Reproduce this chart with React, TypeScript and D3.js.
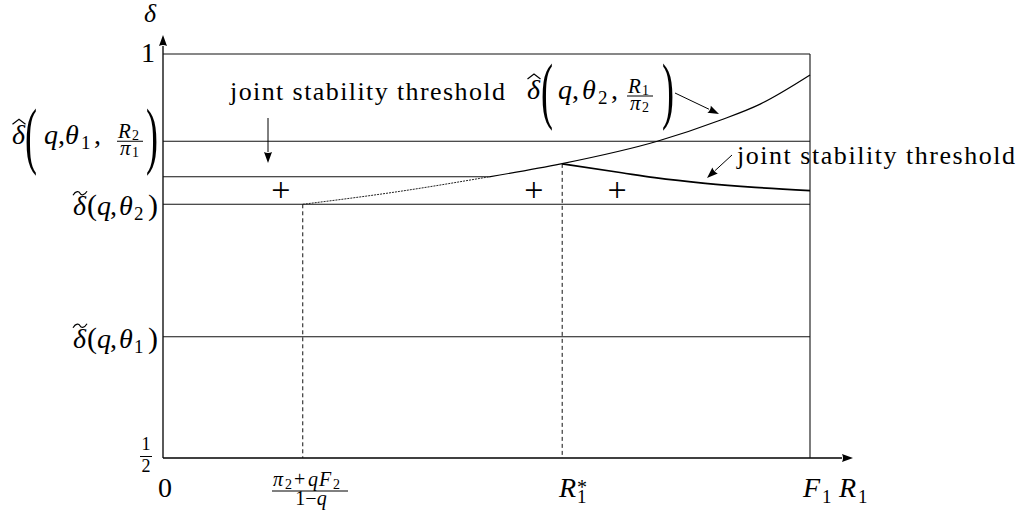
import React from "react";
import * as d3 from "d3";

// horizontal reference levels (delta values, 1/2 .. 1)
const fullLevels = [1, 0.892, 0.814, 0.65];
const jointFlat = 0.848;
// special R1 positions (F1 = 1)
const xThreshold = 0.216; // (pi2 + qF2)/(1-q)
const xStar = 0.617; // R1*
const xCross = 0.504; // where curve meets the flat threshold

// delta-hat(q, theta2, R1/pi2) curve
const upperX = [0.216, 0.366, 0.504, 0.615, 0.764, 0.861, 0.923, 1.0];
const upperY = [0.814, 0.83, 0.848, 0.864, 0.892, 0.918, 0.938, 0.974];
// joint stability threshold to the right of R1*
const lowerX = [0.617, 0.709, 0.76, 0.838, 0.915, 1.0];
const lowerY = [0.864, 0.853, 0.847, 0.84, 0.835, 0.831];
// "+" marks
const plusX = [0.182, 0.573, 0.702];
const plusY = 0.829;

const FONT = "'Liberation Serif', 'DejaVu Serif', serif";

const x = d3.scaleLinear().domain([0, 1]).range([163, 810]);
const y = d3.scaleLinear().domain([0.5, 1]).range([458, 54]);

const line = d3
  .line<[number, number]>()
  .x((d) => x(d[0]))
  .y((d) => y(d[1]))
  .curve(d3.curveMonotoneX);

const upperPts: [number, number][] = upperX.map((v, i) => [v, upperY[i]]);
const upperDotted = upperPts.filter((d) => d[0] <= xCross);
const upperSolid = upperPts.filter((d) => d[0] >= xCross);
const lowerPts: [number, number][] = lowerX.map((v, i) => [v, lowerY[i]]);

function T({ x, y, s = 28, it = false, anchor = "start", children, len }: any) {
  return (
    <text
      x={x}
      y={y}
      fontSize={s}
      fontStyle={it ? "italic" : "normal"}
      textAnchor={anchor}
      textLength={len}
      lengthAdjust={len ? "spacing" : undefined}
    >
      {children}
    </text>
  );
}

// italic symbol followed by an upright subscript, in one text element
function Sub({ x, y, s = 28, ss = 19, sx, dy = 5, sym, sub }: any) {
  return (
    <text x={x} y={y} fontSize={s}>
      <tspan fontStyle="italic">{sym}</tspan>
      <tspan x={sx} dy={dy} fontSize={ss}>{sub}</tspan>
    </text>
  );
}

// tall delimiter, stretched vertically around cy
function Paren({ x, cy, ch, h }: any) {
  const fs = 36;
  const k = h / (0.86 * fs);
  return (
    <text transform={`translate(${x},${cy}) scale(1,${k})`} y={0.25 * fs} fontSize={fs}>
      {ch}
    </text>
  );
}

function Hat({ x0, y0 }: any) {
  return <path d={`M${x0},${y0 + 5} L${x0 + 6.5},${y0} L${x0 + 13},${y0 + 5}`} fill="none" stroke="#000" strokeWidth={1.2} />;
}

function Tilde({ x0, y0 }: any) {
  return (
    <path
      d={`M${x0},${y0 + 3} C${x0 + 3},${y0 - 2} ${x0 + 6},${y0 - 1} ${x0 + 7},${y0 + 1} S${x0 + 11},${y0 + 4} ${x0 + 14},${y0 - 1}`}
      fill="none"
      stroke="#000"
      strokeWidth={1.2}
    />
  );
}

// delta-hat(q, theta_i, R_j / pi_k) with big parens; cy is fraction bar / centre
function HatLabel({ x0, cy, th, rs, ps, o }: any) {
  const b = cy + 3;
  return (
    <g>
      <T x={x0} y={b} it>δ</T>
      <Hat x0={x0 + 0.5} y0={cy - 22} />
      <Paren x={x0 + o[0]} cy={cy} ch="(" h={64} />
      <T x={x0 + o[1]} y={b} it>q</T>
      <T x={x0 + o[1] + 14} y={b}>,</T>
      <Sub x={x0 + o[2]} sx={x0 + o[2] + 16} y={b} sym="θ" sub={th} />
      <T x={x0 + o[2] + 29} y={b}>,</T>
      <Sub x={x0 + o[3]} sx={x0 + o[3] + 14} y={cy - 3} s={21} ss={14} dy={2} sym="R" sub={rs} />
      <line x1={x0 + o[3] - 1} x2={x0 + o[3] + 25} y1={cy} y2={cy} stroke="#000" strokeWidth={1} />
      <Sub x={x0 + o[3] + 2} sx={x0 + o[3] + 14} y={cy + 14} s={21} ss={14} dy={2} sym="π" sub={ps} />
      <Paren x={x0 + o[4]} cy={cy} ch=")" h={64} />
    </g>
  );
}

function TildeLabel({ cy, th }: any) {
  const b = cy + 11;
  return (
    <g>
      <T x={73} y={b} it>δ</T>
      <Tilde x0={73} y0={cy - 12} />
      <T x={87} y={b} s={30}>(</T>
      <T x={97} y={b} it>q</T>
      <T x={110} y={b}>,</T>
      <Sub x={119} sx={134} y={b} sym="θ" sub={th} />
      <T x={148} y={b} s={30}>)</T>
    </g>
  );
}

function Arrow({ x1, y1, x2, y2, sw = 1 }: any) {
  const a = Math.atan2(y2 - y1, x2 - x1);
  const L = 11, W = 4;
  const bx = x2 - L * Math.cos(a), by = y2 - L * Math.sin(a);
  const px = -Math.sin(a) * W, py = Math.cos(a) * W;
  return (
    <g>
      <line x1={x1} y1={y1} x2={bx} y2={by} stroke="#000" strokeWidth={sw} />
      <path d={`M${x2},${y2} L${bx + px},${by + py} Q${bx + 2 * Math.cos(a)},${by + 2 * Math.sin(a)} ${bx - px},${by - py} Z`} fill="#000" />
    </g>
  );
}

export default function App() {
  const stroke = "#111";
  return (
    <svg
      width={1020}
      height={520}
      style={{ position: "absolute", left: 0, top: 0, background: "#fff" }}
      fontFamily={FONT}
    >
      {/* axes */}
      <Arrow x1={x(0)} y1={y(0.5)} x2={x(1) + 43} y2={y(0.5)} sw={1.3} />
      <Arrow x1={x(0)} y1={y(0.5)} x2={x(0)} y2={y(1) - 19} sw={1.3} />

      {/* frame and levels */}
      <line x1={x(1)} x2={x(1)} y1={y(1)} y2={y(0.5)} stroke={stroke} strokeWidth={1.1} />
      {fullLevels.map((v) => (
        <line key={v} x1={x(0)} x2={x(1)} y1={y(v)} y2={y(v)} stroke={stroke} strokeWidth={1.1} />
      ))}
      <line x1={x(0)} x2={x(xCross)} y1={y(jointFlat)} y2={y(jointFlat)} stroke={stroke} strokeWidth={1.1} />

      {/* dashed verticals */}
      <line x1={x(xThreshold)} x2={x(xThreshold)} y1={y(0.814)} y2={y(0.5)} stroke={stroke} strokeWidth={1} strokeDasharray="4 3" />
      <line x1={x(xStar)} x2={x(xStar)} y1={y(0.864)} y2={y(0.5)} stroke={stroke} strokeWidth={1} strokeDasharray="4 3" />

      {/* curves */}
      <path d={line(upperDotted) || ""} fill="none" stroke="#222" strokeWidth={1} strokeDasharray="2 1" />
      <path d={line(upperSolid) || ""} fill="none" stroke="#000" strokeWidth={1.2} />
      <path d={line(lowerPts) || ""} fill="none" stroke="#000" strokeWidth={1.7} />

      {/* plus marks */}
      {plusX.map((v) => (
        <T key={v} x={x(v)} y={y(plusY) + 8.5} s={34} anchor="middle">+</T>
      ))}

      {/* y-axis labels */}
      <T x={144} y={22} s={26} it>δ</T>
      <T x={148} y={62} anchor="middle">1</T>
      <HatLabel x0={12} cy={y(0.892)} th="1" rs="2" ps="1" o={[13, 32, 53, 106, 134]} />
      <TildeLabel cy={y(0.814)} th="2" />
      <TildeLabel cy={y(0.65)} th="1" />
      <T x={146} y={450} s={18} anchor="middle">1</T>
      <line x1={140} x2={152} y1={456.5} y2={456.5} stroke="#000" strokeWidth={1} />
      <T x={146} y={472} s={18} anchor="middle">2</T>

      {/* x-axis labels */}
      <T x={165} y={497} anchor="middle">0</T>
      <text x={273} y={486} fontSize={20}>
        <tspan fontStyle="italic">π</tspan>
        <tspan x={285} dy={3} fontSize={14}>2</tspan>
        <tspan x={294} dy={-3}>+</tspan>
        <tspan x={308} fontStyle="italic">q</tspan>
        <tspan x={319} fontStyle="italic">F</tspan>
        <tspan x={333} dy={3} fontSize={14}>2</tspan>
      </text>
      <line x1={272} x2={348} y1={491} y2={491} stroke="#000" strokeWidth={1} />
      <text x={311} y={505} fontSize={20} textAnchor="middle">
        <tspan>1−</tspan>
        <tspan fontStyle="italic">q</tspan>
      </text>
      <text x={559} y={497} fontSize={28}>
        <tspan fontStyle="italic">R</tspan>
        <tspan x={577} dy={6} fontSize={19}>1</tspan>
        <tspan x={577} dy={-9} fontSize={20}>*</tspan>
      </text>
      <Sub x={803} sx={822} y={497} sym="F" sub="1" dy={6} />
      <Sub x={839} sx={858} y={497} sym="R" sub="1" dy={6} />

      {/* annotations */}
      <T x={230} y={100} s={26} len={275}>joint stability threshold</T>
      <Arrow x1={268} y1={118} x2={268} y2={163} />
      <HatLabel x0={527} cy={96} th="2" rs="1" ps="2" o={[14, 31, 55, 101, 135]} />
      <Arrow x1={675} y1={93} x2={719} y2={114} />
      <T x={737} y={164} s={26} len={278}>joint stability threshold</T>
      <Arrow x1={732} y1={155} x2={707} y2={178} />
    </svg>
  );
}
